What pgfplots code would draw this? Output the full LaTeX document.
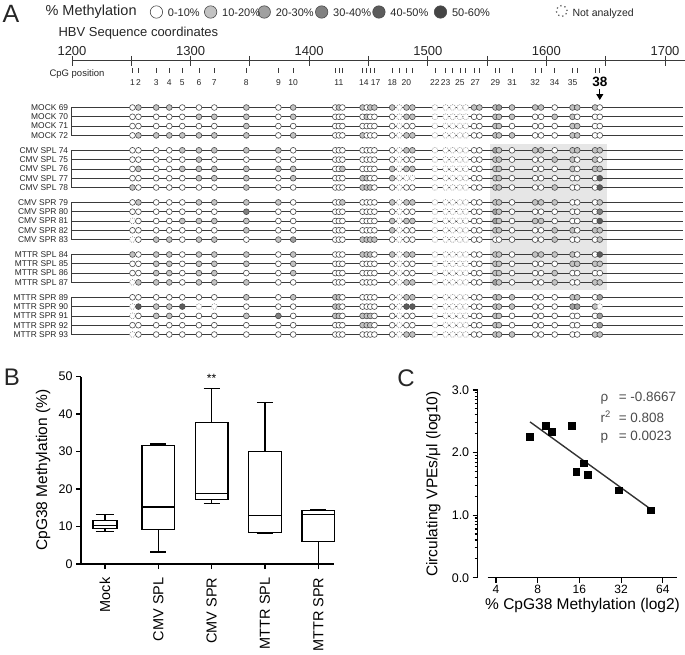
\documentclass[border=0pt]{standalone}
\usepackage{fontspec}
\setmainfont{Liberation Sans}
\usepackage{pgfplots}
\pgfplotsset{compat=1.18}
\usepackage{pgfplotstable}
\usepgfplotslibrary{statistics}
\usetikzlibrary{arrows.meta}

\newcommand{\fs}[1]{\fontsize{#1}{#1}\selectfont}

\definecolor{m0}{HTML}{FFFFFF}
\definecolor{m1}{HTML}{C2C2C2}
\definecolor{m2}{HTML}{A0A0A0}
\definecolor{m3}{HTML}{808080}
\definecolor{m4}{HTML}{5C5C5C}
\definecolor{m5}{HTML}{454545}
\definecolor{edge}{HTML}{4A4A4A}
\definecolor{rowline}{HTML}{3A3A3A}
\definecolor{bgshade}{HTML}{E6E6E6}

\pgfplotsset{
  /pgf/number format/assume math mode=true,
  meth/.style={scatter, only marks, point meta=explicit symbolic, mark=*, mark size=#1,
    scatter/classes={
      0={mark=*, draw=edge, fill=m0, line width=0.6pt},
      1={mark=*, draw=edge, fill=m1, line width=0.6pt},
      2={mark=*, draw=edge, fill=m2, line width=0.6pt},
      3={mark=*, draw=edge, fill=m3, line width=0.6pt},
      4={mark=*, draw=edge, fill=m4, line width=0.6pt},
      5={mark=*, draw=edge, fill=m5, line width=0.6pt},
      n={mark=*, draw=black!45, fill=white, line width=0.7pt, dash pattern=on 0.8pt off 1.2pt}}},
  meth/.default=2.9pt,
}

% methylation class of each CpG site per clone: 0 = 0-10%, 1 = 10-20%, ... 5 = 50-60%, n = not analyzed
\pgfplotstableread{
pos    s69 s70 s71 s72 s74 s75 s76 s77 s78 s79 s80 s81 s82 s83 s84 s85 s86 s87 s89 s90 s91 s92 s93
1251   0 0 0 0 0 0 0 0 1 0 0 n 0 n 1 0 0 n 0 n n 0 n
1256   1 0 0 1 0 0 1 0 0 1 0 0 0 0 0 0 0 1 0 4 0 0 0
1271   1 0 0 1 0 0 0 0 0 0 0 0 0 1 1 1 1 1 0 1 1 0 0
1282   1 0 0 1 0 0 0 0 0 0 0 0 0 1 1 1 1 1 0 1 1 0 0
1293   0 0 0 1 1 0 1 0 0 0 0 1 0 0 0 0 0 0 0 4 0 0 0
1307   0 1 0 1 1 1 1 1 0 1 0 1 0 1 1 1 1 1 0 n 0 0 0
1320   0 1 0 1 1 0 1 1 0 1 0 1 0 1 1 1 1 1 0 n 0 0 0
1347   1 1 1 1 1 0 1 1 1 1 3 1 1 0 1 1 0 1 1 0 1 0 0
1374   0 0 0 0 1 0 1 0 0 1 0 0 0 1 0 0 0 0 0 0 3 0 0
1386.5 1 1 0 1 0 0 1 1 0 0 0 0 0 2 1 1 1 0 1 0 0 0 0
1422   0 0 0 0 0 0 0 0 0 0 0 0 0 0 0 0 0 0 1 1 1 0 0
1425   1 0 0 0 0 0 0 0 0 0 0 0 0 0 0 0 0 0 1 1 1 0 0
1428   0 0 0 0 0 0 1 0 0 1 0 0 0 0 0 0 0 0 0 0 0 0 0
1445   1 0 0 1 0 0 0 1 1 0 0 0 0 1 1 0 0 0 0 0 1 1 0
1448.5 0 1 0 0 0 0 0 1 1 0 0 0 0 1 1 0 0 0 0 0 1 1 0
1451.5 1 0 0 0 0 0 0 0 1 0 0 0 0 1 1 0 0 0 0 0 1 1 0
1455   1 0 0 0 0 0 0 0 0 0 0 0 0 1 0 0 0 0 0 0 0 0 0
1470   1 0 0 0 0 0 1 1 0 1 0 1 1 0 1 0 0 0 0 0 0 0 0
1476   n n n n n n n n n n n n n n n n n n n n n n n
1482   1 1 0 1 1 0 1 n 0 1 0 1 0 0 1 0 0 1 1 4 0 0 1
1487   1 1 0 1 1 0 1 n 0 1 0 1 0 0 1 0 0 1 1 4 0 0 1
1506   n n n n n n n n n n n n n n n n n n n n n n n
1515   n n n n n n n n n n n n n n n n n n n n n n n
1521   n n n n n n n n n n n n n n n n n n n n n n n
1527   n n n n n n n n n n n n n n n n n n n n n n n
1532   n n n n n n n n n n n n n n n n n n n n n n n
1539   1 0 0 0 0 0 0 0 0 0 0 0 0 0 0 0 0 0 0 0 0 0 0
1543.5 1 0 0 0 0 0 0 0 0 0 0 0 0 0 0 0 0 0 0 0 0 0 0
1557   1 1 1 1 2 1 1 1 1 1 2 2 1 0 1 1 1 2 1 1 1 1 1
1560   2 1 1 1 1 1 1 1 1 1 1 1 1 0 1 1 1 1 1 1 1 1 1
1571   1 1 0 1 0 0 0 0 0 0 0 0 0 0 0 0 0 0 1 1 0 0 1
1590.5 1 0 0 0 1 0 0 0 0 1 0 1 0 0 1 0 0 0 0 0 0 0 0
1595.5 1 0 0 0 1 0 0 0 0 1 0 1 0 0 1 0 0 0 0 0 0 0 0
1607   0 1 0 0 0 1 0 0 1 1 0 0 1 1 1 0 1 1 0 0 0 0 0
1622   1 1 1 1 1 1 1 0 0 0 0 0 1 0 1 1 0 0 1 2 0 0 0
1626   1 0 1 1 1 0 0 0 0 0 0 0 0 0 0 1 0 0 1 2 0 0 0
1641   1 0 0 0 1 1 1 0 0 0 0 0 1 0 0 1 0 1 0 1 0 0 1
1645   0 0 0 0 1 0 1 4 4 1 3 4 1 1 4 1 0 1 2 n 2 2 1
}\meth

\newcommand{\rowlab}[2]{%
  \node[anchor=east, font=\fs{8.4}, inner sep=0pt, text=black!85] at (axis cs:1196.9,#2) {#1};
  \draw[rowline, line width=0.8pt] (axis cs:1199.2,#2) -- (axis cs:1715.4,#2);}
\newcommand{\mrow}[2]{\addplot[meth] table[x=pos, y expr=#2, meta=#1] {\meth};}
\newcommand{\cl}[2]{\node[font=\fs{8.5}, text=black!85] at (axis cs:#1,83) {#2};}

\begin{document}
\begin{tikzpicture}
% ---------------- panel A ----------------
\begin{axis}[at={(0pt,0pt)}, anchor=south west, scale only axis,
  width=685pt, height=654pt,
  xmin=1139.29, xmax=1716.86, ymin=0, ymax=654, y dir=reverse,
  hide axis, clip=false]
  \fill[bgshade] (axis cs:1552.4,144) rectangle (axis cs:1651.1,289.5);
  % sequence scale
  \draw[rowline, line width=1pt] (axis cs:1200,61) -- (axis cs:1716.86,61);
  \pgfplotsinvokeforeach{1200,1250,...,1700}{\draw[rowline, line width=0.9pt] (axis cs:#1,56) -- (axis cs:#1,66);}
  \pgfplotsinvokeforeach{1200,1300,...,1700}{\node[font=\fs{13}, text=black!85] at (axis cs:#1,51) {#1};}
  \addplot[only marks, mark=|, mark size=2.5pt, mark options={rowline, line width=0.6pt}]
    table[x=pos, y expr=70.5] {\meth};
  \cl{1251}{1}\cl{1256}{2}\cl{1271}{3}\cl{1282}{4}\cl{1293}{5}\cl{1307}{6}\cl{1320}{7}
  \cl{1347}{8}\cl{1374}{9}\cl{1386.5}{10}\cl{1425}{11}\cl{1446}{14}\cl{1456}{17}
  \cl{1470}{18}\cl{1482}{20}\cl{1506}{22}\cl{1515}{23}\cl{1527}{25}\cl{1540}{27}
  \cl{1557}{29}\cl{1571}{31}\cl{1590.5}{32}\cl{1607}{34}\cl{1622}{35}
  \node[font=\bfseries\fs{13.5}] at (axis cs:1645,82) {38};
  \draw[line width=1.1pt, -{Triangle[width=7pt,length=6pt]}] (axis cs:1645,89) -- (axis cs:1645,100);
  % clone rows
  \rowlab{MOCK 69}{107.5}\rowlab{MOCK 70}{116.8}\rowlab{MOCK 71}{126.1}\rowlab{MOCK 72}{135.4}
  \rowlab{CMV SPL 74}{150.3}\rowlab{CMV SPL 75}{159.6}\rowlab{CMV SPL 76}{168.9}\rowlab{CMV SPL 77}{178.2}\rowlab{CMV SPL 78}{187.5}
  \rowlab{CMV SPR 79}{202.4}\rowlab{CMV SPR 80}{211.7}\rowlab{CMV SPR 81}{221.0}\rowlab{CMV SPR 82}{230.3}\rowlab{CMV SPR 83}{239.6}
  \rowlab{MTTR SPL 84}{254.5}\rowlab{MTTR SPL 85}{263.8}\rowlab{MTTR SPL 86}{273.1}\rowlab{MTTR SPL 87}{282.4}
  \rowlab{MTTR SPR 89}{297.3}\rowlab{MTTR SPR 90}{306.6}\rowlab{MTTR SPR 91}{315.9}\rowlab{MTTR SPR 92}{325.2}\rowlab{MTTR SPR 93}{334.5}
  \draw[rowline, line width=0.8pt] (axis cs:1199.2,107.5) -- (axis cs:1199.2,135.4);
  \draw[rowline, line width=0.8pt] (axis cs:1199.2,150.3) -- (axis cs:1199.2,187.5);
  \draw[rowline, line width=0.8pt] (axis cs:1199.2,202.4) -- (axis cs:1199.2,239.6);
  \draw[rowline, line width=0.8pt] (axis cs:1199.2,254.5) -- (axis cs:1199.2,282.4);
  \draw[rowline, line width=0.8pt] (axis cs:1199.2,297.3) -- (axis cs:1199.2,334.5);
  \mrow{s69}{107.5}\mrow{s70}{116.8}\mrow{s71}{126.1}\mrow{s72}{135.4}
  \mrow{s74}{150.3}\mrow{s75}{159.6}\mrow{s76}{168.9}\mrow{s77}{178.2}\mrow{s78}{187.5}
  \mrow{s79}{202.4}\mrow{s80}{211.7}\mrow{s81}{221.0}\mrow{s82}{230.3}\mrow{s83}{239.6}
  \mrow{s84}{254.5}\mrow{s85}{263.8}\mrow{s86}{273.1}\mrow{s87}{282.4}
  \mrow{s89}{297.3}\mrow{s90}{306.6}\mrow{s91}{315.9}\mrow{s92}{325.2}\mrow{s93}{334.5}
  % legend symbols
  \addplot[meth=6.2pt] coordinates {(1271.2,12) [0] (1316.9,12) [1] (1362.1,12) [2]
    (1410.5,12) [3] (1458.8,12) [4] (1510.7,12) [5]};
  \addplot[only marks, mark=*, mark size=5.5pt, mark options={draw=black!60, fill=white,
    line width=1.3pt, dash pattern=on 1.3pt off 3pt}] coordinates {(1612.9,11)};
\end{axis}

% ---------------- panel B ----------------
\begin{axis}[at={(81pt,90pt)}, anchor=south west, scale only axis,
  width=253.3pt, height=187.5pt,
  xmin=-0.45, xmax=4.3, ymin=0, ymax=50,
  axis lines*=left, axis line style={-, line width=1.2pt},
  tick align=outside, major tick length=5pt,
  tick style={black, line width=1.2pt},
  xtick={0,1,2,3,4},
  xticklabels={Mock, CMV SPL, CMV SPR, MTTR SPL, MTTR SPR},
  xticklabel style={rotate=90, anchor=east, font=\fs{14.5}},
  xticklabel shift=5pt,
  ytick={0,10,20,30,40,50},
  yticklabel style={font=\fs{12.5}},
  ylabel={CpG38 Methylation (\%)},
  every axis y label/.style={at={(axis description cs:-0.150,0.501)}, rotate=90, anchor=center, font=\fs{15.5}},
  boxplot/draw direction=y, clip=false]
  \addplot[black, line width=1.2pt, boxplot prepared={draw position=0, lower whisker=8.7,
    lower quartile=9.4, median=10.2, upper quartile=11.7, upper whisker=13.1,
    box extend=0.45, whisker extend=0.35}] coordinates {};
  \addplot[black, line width=1.2pt, boxplot prepared={draw position=1, lower whisker=3.2,
    lower quartile=9.3, median=15.2, upper quartile=31.5, upper whisker=32.0,
    box extend=0.61, whisker extend=0.3}] coordinates {};
  \addplot[black, line width=1.2pt, boxplot prepared={draw position=2, lower whisker=16.1,
    lower quartile=17.1, median=18.7, upper quartile=37.8, upper whisker=46.9,
    box extend=0.61, whisker extend=0.3}] coordinates {};
  \addplot[black, line width=1.2pt, boxplot prepared={draw position=3, lower whisker=8.1,
    lower quartile=8.5, median=12.9, upper quartile=30.1, upper whisker=43.1,
    box extend=0.61, whisker extend=0.3}] coordinates {};
  \addplot[black, line width=1.2pt, boxplot prepared={draw position=4, lower whisker=0.0,
    lower quartile=6.0, median=13.1, upper quartile=14.2, upper whisker=14.6,
    box extend=0.61, whisker extend=0.3}] coordinates {};
  \node[font=\fs{12}] at (axis cs:2,49.6) {**};
\end{axis}

% ---------------- panel C ----------------
\begin{axis}[at={(477.7pt,76.3pt)}, anchor=south west, scale only axis,
  width=199pt, height=187.7pt,
  xmode=log, log basis x=2, xmin=2.951, xmax=80.6, ymin=0, ymax=3,
  axis lines*=left, axis line style={-, line width=1.2pt},
  x axis line style={shorten <=10pt},
  tick align=outside, major tick length=5pt, minor tick length=3pt,
  tick style={black, line width=1.1pt},
  xtick={4,8,16,32,64}, xticklabels={4,8,16,32,64}, xminorticks=false,
  ytick={0,1,2,3}, yticklabels={0.0,1.0,2.0,3.0},
  minor ytick={0.301,0.477,0.602,0.699,0.778,0.845,0.903,0.954,
    1.301,1.477,1.602,1.699,1.778,1.845,1.903,1.954,
    2.301,2.477,2.602,2.699,2.778,2.845,2.903,2.954},
  yticklabel style={font=\fs{12.5}},
  xticklabel style={font=\fs{12}},
  xticklabel shift=-1pt,
  xlabel={\% CpG38 Methylation (log2)},
  ylabel={Circulating VPEs/μl (log10)},
  every axis x label/.style={at={(axis description cs:0.527,-0.148)}, anchor=center, font=\fs{15.5}},
  every axis y label/.style={at={(axis description cs:-0.223,0.499)}, rotate=90, anchor=center, font=\fs{15.5}},
  clip=false]
  \addplot[black!80, line width=1.4pt] coordinates {(7.04,2.49) (52.0,1.10)};
  \addplot[only marks, mark=square*, mark size=3.35pt, black] coordinates {
    (7.04,2.25) (9.1,2.43) (10.1,2.33) (14.1,2.43) (15.2,1.69)
    (17.2,1.83) (18.3,1.65) (30.7,1.40) (52.5,1.08)};
\end{axis}

% ---------------- free text (pixel grid, y downwards) ----------------
\begin{scope}[x=1pt, y=-1pt, yshift=654pt]
  \node[font=\fs{25}, text=black!85] at (11,14) {A};
  \node[anchor=west, font=\fs{14.5}, text=black!85] at (42,12) {\% Methylation};
  \node[anchor=west, font=\fs{11}, text=black!85] at (164.4,13) {0-10\%};
  \node[anchor=west, font=\fs{11}, text=black!85] at (218.6,13) {10-20\%};
  \node[anchor=west, font=\fs{11}, text=black!85] at (272.3,13) {20-30\%};
  \node[anchor=west, font=\fs{11}, text=black!85] at (329.6,13) {30-40\%};
  \node[anchor=west, font=\fs{11}, text=black!85] at (386.9,13) {40-50\%};
  \node[anchor=west, font=\fs{11}, text=black!85] at (448.5,13) {50-60\%};
  \node[anchor=west, font=\fs{10.5}, text=black!85] at (569,14) {Not analyzed};
  \node[anchor=west, font=\fs{13}, text=black!85] at (55,33) {HBV Sequence coordinates};
  \node[anchor=west, font=\fs{9.5}, text=black!85] at (46,74) {CpG position};
  \node[font=\fs{24}, text=black!85] at (12,377) {B};
  \node[font=\fs{24}, text=black!85] at (406,378) {C};
  \node[anchor=west, font=\fs{13.5}, text=black!70] at (597,398) {\makebox[1.35em][l]{ρ}= -0.8667};
  \node[anchor=west, font=\fs{13.5}, text=black!70] at (597,417) {\makebox[1.35em][l]{r\textsuperscript{2}}= 0.808};
  \node[anchor=west, font=\fs{13.5}, text=black!70] at (597,437) {\makebox[1.35em][l]{p}= 0.0023};
\end{scope}
\pgfresetboundingbox
\path[use as bounding box] (0,0) rectangle (685pt,654pt);
\end{tikzpicture}
\end{document}
